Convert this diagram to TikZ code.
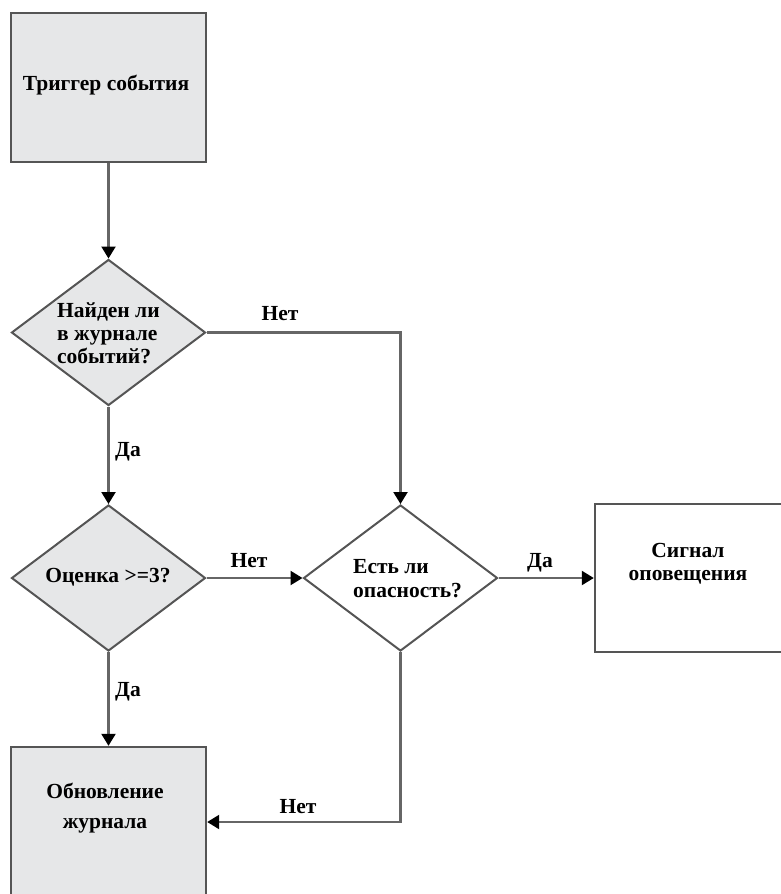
\documentclass[tikz,border=0pt]{standalone}
\usepackage{fontspec}
\setmainfont{Liberation Serif}
\usetikzlibrary{shapes.geometric,arrows.meta}
\definecolor{boxfill}{HTML}{E6E7E8}
\definecolor{boxline}{HTML}{555555}
\definecolor{arrline}{HTML}{666666}
\begin{document}
\begin{tikzpicture}[x=1pt,y=-1pt,
  box/.style={draw=boxline,line width=2.4pt,rectangle,inner sep=0pt},
  dia/.style={draw=boxline,line width=2pt,diamond,inner sep=0pt,minimum width=194pt,minimum height=146pt},
  txt/.style={font=\fontsize{21.5}{23}\selectfont\bfseries,inner sep=0pt},
  lbl/.style={font=\fontsize{21.5}{24}\selectfont\bfseries,inner sep=0pt},
  arr/.style={draw=arrline,line width=2.2pt,-{Triangle[length=12pt,width=14pt,fill=black,color=black]}}]
\useasboundingbox (0,0) rectangle (781,894);
% boxes and decisions
\node[box,fill=boxfill,minimum width=195pt,minimum height=149pt] (b1) at (108.5,87.5) {};
\node[txt] (t1) at (106,85) {Триггер события};
\node[dia,fill=boxfill] (d1) at (108.5,332.5) {};
\node[txt,anchor=west,align=left] (t2) at (57,333) {Найден ли\\в журнале\\событий?};
\node[dia,fill=boxfill] (d3) at (108.5,578) {};
\node[txt] (t3) at (108,577) {Оценка >=3?};
\node[dia,fill=white] (d2) at (400.5,578) {};
\node[txt,anchor=west,align=left,font=\fontsize{21.5}{24.5}\selectfont\bfseries] (t4) at (353,578.5) {Есть ли\\опасность?};
\node[box,fill=white,minimum width=195pt,minimum height=148pt] (b3) at (692.5,578) {};
\node[txt,align=center] (t5) at (688,564) {Сигнал\\оповещения};
\node[box,fill=boxfill,minimum width=195pt,minimum height=150pt] (b4) at (108.5,822) {};
\node[txt,align=center,font=\fontsize{21.5}{30}\selectfont\bfseries] (t6) at (105,808) {Обновление\\журнала};
% connectors
\draw[arr] (b1.south) -- (d1.north);
\draw[arr] (d1.east) -| (d2.north);
\draw[arr] (d1.south) -- (d3.north);
\draw[arr] (d3.east) -- (d2.west);
\draw[arr] (d2.east) -- (b3.west);
\draw[arr] (d3.south) -- (b4.north);
\draw[arr] (d2.south) |- (b4.east);
% labels
\node[lbl] (l1) at (280,314) {Нет};
\node[lbl] (l2) at (128,452) {Да};
\node[lbl] (l3) at (249,561) {Нет};
\node[lbl] (l4) at (540,563) {Да};
\node[lbl] (l5) at (128,692) {Да};
\node[lbl] (l6) at (298,807) {Нет};
\end{tikzpicture}
\end{document}
